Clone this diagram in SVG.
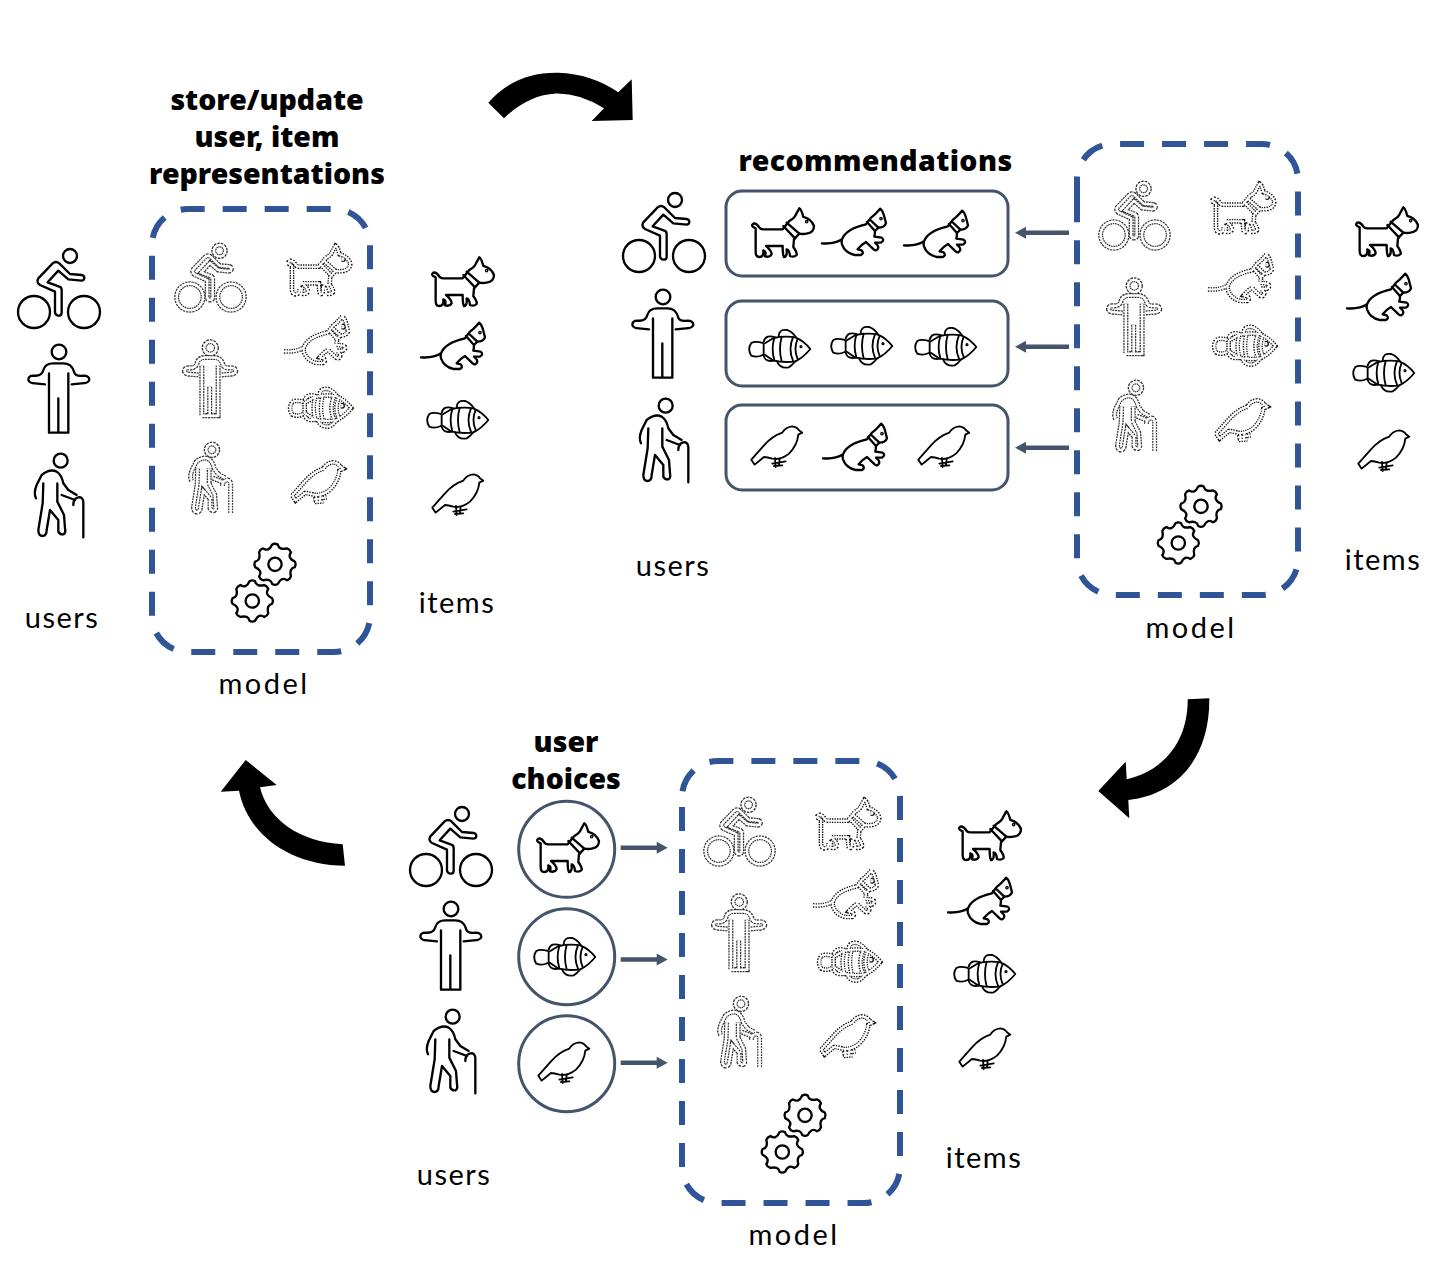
<svg xmlns="http://www.w3.org/2000/svg" width="1440" height="1286" viewBox="0 0 1440 1286">
<style>
text{font-family:"Lato","Noto Sans","Liberation Sans",sans-serif;fill:#000;font-variant-ligatures:none}
.l{font-size:29px;letter-spacing:1.5px;text-anchor:middle}
.m{font-size:29px;letter-spacing:2.500px;text-anchor:middle}
.h{font-family:"Noto Sans","Lato",sans-serif;font-size:28.500px;font-weight:900;text-anchor:middle}
.s{fill:none;stroke:#000;stroke-width:7;stroke-linecap:round;stroke-linejoin:round}
.t{fill:none;stroke:#000;stroke-width:5.500;stroke-linecap:round;stroke-linejoin:round}
.po{fill:none;stroke:#333;stroke-width:18;stroke-dasharray:7 3}
.pi{fill:none;stroke:#fff;stroke-width:9}
.ao{fill:none;stroke:#111;stroke-width:14;stroke-dasharray:4 3.500}
.ai{fill:none;stroke:#fff;stroke-width:6}
.box{fill:none;stroke:#2f5597;stroke-width:6;stroke-dasharray:24 18}
.rec{fill:#fff;stroke:#44546a;stroke-width:3}
.a{stroke:#44546a;stroke-width:4.500;fill:none}
.ah{fill:#44546a}
.big{fill:#000}
</style>
<defs>
<g id="bike"><circle cx="102" cy="336" r="48"/><circle cx="252" cy="336" r="48"/><circle cx="210" cy="168" r="21"/><path d="M245,225 L210,222 L178,190 Q168,182 158,190 L115,235 Q108,247 120,255 L165,275 L165,338 Q168,347 175,347 Q185,347 185,338 L185,270 Q185,262 178,260 L143,247 L175,212 L205,238 L245,242 Q253,240 253,233 Q252,226 245,225 Z"/></g>
<g id="person"><circle cx="177" cy="456" r="22"/><path d="M135,553 L105,550 Q88,550 85,540 Q85,527 100,527 Q125,530 130,510 Q135,490 160,490 L190,490 Q215,490 222,515 Q225,530 250,527 Q268,527 268,540 Q265,550 245,550 L215,553"/><path d="M147,520 L147,698 L205,698 L205,520 M175,595 L175,698"/></g>
<g id="elder"><circle cx="182" cy="782" r="21"/><path d="M108,895 Q100,880 110,855 L125,825 Q150,805 170,815 Q185,825 190,850 L205,870 L230,885"/><path d="M250,1012 L250,905 Q248,890 235,892 Q220,895 220,915 M185,885 L225,900"/><path d="M130,850 L128,910 L115,990 Q115,1010 130,1008 Q140,1005 140,990 L150,930 L175,960 L175,995 Q180,1005 190,1003 Q198,1000 195,985 L192,945 L172,905 L172,850"/></g>
<g id="dog"><path d="M497,142 Q480,135 490,128 Q498,125 507,138 Q510,145 520,145 L578,145 L598,120 Q615,110 618,100 L628,82 Q634,85 640,108 Q665,115 672,135 Q672,155 650,158 Q638,160 628,158 L612,175 L610,198 Q622,215 620,222 Q612,230 600,225 Q598,205 590,205 Q592,228 582,228 Q578,222 578,195 L528,195 Q545,210 545,220 Q540,230 525,226 Q530,210 520,208 Q522,228 508,228 Q497,228 497,212 Z"/><path d="M580,135 L615,172 M590,125 L628,158"/><circle cx="650" cy="122" r="2"/></g>
<g id="cat"><path d="M453,382 Q490,385 513,370 Q525,338 585,325 L600,305 Q610,298 615,292 L628,278 Q634,282 638,295 L645,322 Q640,335 622,335 L612,345 Q612,355 610,362 L632,365 Q642,372 630,380 L612,380 Q622,388 622,395 Q618,408 608,400 L585,378 Q572,385 560,400 L572,403 Q580,412 570,417 L550,417 Q522,410 513,385 Q511,378 513,370"/><path d="M588,318 L612,345 M598,312 L622,335"/><circle cx="630" cy="308" r="2"/></g>
<g id="fish"><path d="M515,555 L545,537 Q580,530 610,535 Q635,545 655,570 Q635,595 610,607 Q580,612 545,605 L515,585 Z"/><path d="M512,552 Q490,545 478,552 Q465,570 478,590 Q495,597 512,588 M515,548 Q522,525 550,535 M560,533 Q560,510 585,513 Q600,518 612,535 M515,590 Q520,610 545,605 M555,607 Q565,630 590,625 Q600,620 610,607 M547,537 Q537,570 547,603 M569,533 Q559,570 569,607 M603,535 Q588,570 603,605 M617,540 Q604,570 617,600"/><circle cx="627" cy="563" r="2"/></g>
<g id="bird"><path d="M487,833 L525,790 Q550,762 580,752 Q590,735 610,733 Q625,735 630,745 L640,752 L628,758 Q625,790 600,815 Q575,835 550,830 Q535,825 525,825 L497,848 Z"/><path d="M558,828 L560,855 M572,830 L570,850 M550,845 L590,838 M555,852 L580,850"/></g>
<g id="gear"><path d="M59.400,-8.300 Q64,0 59.400,8.300 Q42,12 47.900,36.100 Q45,45 36.100,47.900 Q19,36 8.300,59.400 Q0,64 -8.300,59.400 Q-12,42 -36.100,47.900 Q-45,45 -47.900,36.100 Q-36,19 -59.400,8.300 Q-64,0 -59.400,-8.300 Q-42,-12 -47.900,-36.100 Q-45,-45 -36.100,-47.900 Q-19,-36 -8.300,-59.400 Q0,-64 8.300,-59.400 Q12,-42 36.100,-47.900 Q45,-45 47.900,-36.100 Q36,-19 59.400,-8.300 Z"/><circle r="20"/></g>
<g id="people"><use href="#bike" transform="translate(161.800 204.600) scale(.275)"/><use href="#person" transform="translate(160.700 220.200) scale(.28)"/><use href="#elder" transform="translate(161.900 234.800) scale(.275)"/></g>
<g id="animals"><use href="#dog" transform="translate(126.300 218.300) scale(.3333)"/><use href="#cat" transform="translate(133 224) scale(.3333)"/><use href="#fish" transform="translate(133 218) scale(.3333)"/><use href="#bird" transform="translate(130 218) scale(.3333)"/></g>
<g id="contents"><use href="#people" class="po"/><use href="#people" class="pi"/><use href="#animals" class="ao"/><use href="#animals" class="ai"/></g>
<g id="gears" class="s"><use href="#gear" transform="translate(275 564.300) scale(.3333)"/><use href="#gear" transform="translate(252.300 601) scale(.3333)"/></g>
</defs>

<g id="panel-store">
<g id="store-users" class="s"><use href="#bike" transform="translate(0 200) scale(.3333)"/><use href="#person" transform="translate(0 200) scale(.3333)"/><use href="#elder" transform="translate(0 200) scale(.3333)"/></g>
<g id="store-items"><g class="s"><use href="#dog" transform="translate(270 230) scale(.3333)"/><use href="#cat" transform="translate(270 230) scale(.3333)"/></g><g class="t"><use href="#fish" transform="translate(270 230) scale(.3333)"/><use href="#bird" transform="translate(270 230) scale(.3333)"/></g></g>
<g id="store-model"><path class="box" d="M152,255.700 V616 A36,36 0 0 0 188,652 H334 A36,36 0 0 0 370,616 V245 A36,36 0 0 0 334,209 H188 A36,36 0 0 0 152,245 Z"/><use href="#contents"/><use href="#gears"/></g>
<text class="h" x="267" y="110">store/update</text><text class="h" x="267" y="147">user, item</text><text class="h" x="267" y="184">representations</text>
<text class="l" x="62" y="628">users</text><text class="l" x="457" y="613">items</text><text class="m" x="264" y="694">model</text>
</g>

<g id="panel-recommend">
<g id="rec-users" class="s"><use href="#bike" transform="translate(605 144) scale(.3333)"/><use href="#person" transform="translate(604 145) scale(.3333)"/><use href="#elder" transform="translate(605 145) scale(.3333)"/></g>
<g id="rec-row-1"><rect class="rec" x="726" y="191" width="282" height="85" rx="16"/><g class="s"><use href="#dog" transform="translate(590 181) scale(.3333)"/><use href="#cat" transform="translate(671 116) scale(.3333)"/><use href="#cat" transform="translate(753 118) scale(.3333)"/></g></g>
<g id="rec-row-2"><rect class="rec" x="726" y="301" width="282" height="85" rx="16"/><g class="t"><use href="#fish" transform="translate(592 159) scale(.3333)"/><use href="#fish" transform="translate(674 156) scale(.3333)"/><use href="#fish" transform="translate(758 157) scale(.3333)"/></g></g>
<g id="rec-row-3"><rect class="rec" x="726" y="405" width="282" height="85" rx="16"/><g class="t"><use href="#bird" transform="translate(589 182) scale(.3333)"/><use href="#bird" transform="translate(756 182) scale(.3333)"/></g><use class="s" href="#cat" transform="translate(672 331) scale(.3333)"/></g>
<g id="rec-model"><path class="box" d="M1077,198.300 V559 A36,36 0 0 0 1113,595 H1262 A36,36 0 0 0 1298,559 V180 A36,36 0 0 0 1262,144 H1113 A36,36 0 0 0 1077,180 Z"/><use href="#contents" transform="translate(924 -62)"/><use href="#gears" transform="translate(926 -58)"/></g>
<g id="rec-items"><g class="s"><use href="#dog" transform="translate(1194 180) scale(.3333)"/><use href="#cat" transform="translate(1196 181) scale(.3333)"/></g><g class="t"><use href="#fish" transform="translate(1196 183) scale(.3333)"/><use href="#bird" transform="translate(1196 186) scale(.3333)"/></g></g>
<text class="h" x="875.500" y="171" style="letter-spacing:.4px">recommendations</text>
<text class="l" x="673" y="576">users</text><text class="l" x="1383" y="570">items</text><text class="m" x="1191" y="638">model</text>
</g>

<g id="panel-choices">
<g id="cho-users" class="s"><use href="#bike" transform="translate(392 758) scale(.3333)"/><use href="#person" transform="translate(392 757) scale(.3333)"/><use href="#elder" transform="translate(392 756) scale(.3333)"/></g>
<g id="cho-1"><circle class="rec" cx="566.700" cy="849.300" r="48"/><use class="s" href="#dog" transform="translate(375 796) scale(.3333)"/></g>
<g id="cho-2"><circle class="rec" cx="566.700" cy="956.700" r="48"/><use class="t" href="#fish" transform="translate(377 767) scale(.3333)"/></g>
<g id="cho-3"><circle class="rec" cx="566.700" cy="1063.700" r="48"/><use class="t" href="#bird" transform="translate(376 798) scale(.3333)"/></g>
<g id="cho-model"><path class="box" d="M682,807 V1167 A36,36 0 0 0 718,1203 H864 A36,36 0 0 0 900,1167 V797 A36,36 0 0 0 864,761 H718 A36,36 0 0 0 682,797 Z"/><use href="#contents" transform="translate(529 554)"/><use href="#gears" transform="translate(530 551)"/></g>
<g id="cho-items"><g class="s"><use href="#dog" transform="translate(797 784) scale(.3333)"/><use href="#cat" transform="translate(797 785) scale(.3333)"/></g><g class="t"><use href="#fish" transform="translate(797 784) scale(.3333)"/><use href="#bird" transform="translate(797 784) scale(.3333)"/></g></g>
<text class="h" x="566" y="752">user</text><text class="h" x="566" y="789">choices</text>
<text class="l" x="454" y="1185">users</text><text class="l" x="984" y="1168">items</text><text class="m" x="794" y="1245">model</text>
</g>

<g id="connectors">
<path class="big" d="M488.300,102.700 Q515,72 558,72.700 Q592,74 618.300,92.300 L631.700,79.300 L632.700,120 L591.700,121 L604,108.300 Q580,93 556,93.500 Q528,95 504,118.300 Z"/>
<path class="big" d="M1187.700,699.300 L1209.300,698.300 C1210,760 1175,795 1128.300,800 L1129.300,818.300 L1098.300,791 L1125.700,761.700 L1126.700,779.300 C1160,772 1188,745 1187.700,699.300 Z"/>
<path class="big" d="M245.700,760 L276.700,785 L260,787.300 C268,820 300,842 342.700,844.300 L345,865.700 C290,865 248,835 239,790.700 L220.700,791.700 Z"/>
<path class="a" d="M1069,232.700 H1024"/><path class="ah" d="M1015,232.700 L1026,226.700 V238.700 Z"/>
<path class="a" d="M1069,346.700 H1024"/><path class="ah" d="M1015,346.700 L1026,340.700 V352.700 Z"/>
<path class="a" d="M1069,447.700 H1024"/><path class="ah" d="M1015,447.700 L1026,441.700 V453.700 Z"/>
<path class="a" d="M620.700,847.700 H658"/><path class="ah" d="M667.700,847.700 L656.700,841.700 V853.700 Z"/>
<path class="a" d="M620.700,959.500 H658"/><path class="ah" d="M667.700,959.500 L656.700,953.500 V965.500 Z"/>
<path class="a" d="M620.700,1062.700 H658"/><path class="ah" d="M667.700,1062.700 L656.700,1056.700 V1068.700 Z"/>
</g>
</svg>
